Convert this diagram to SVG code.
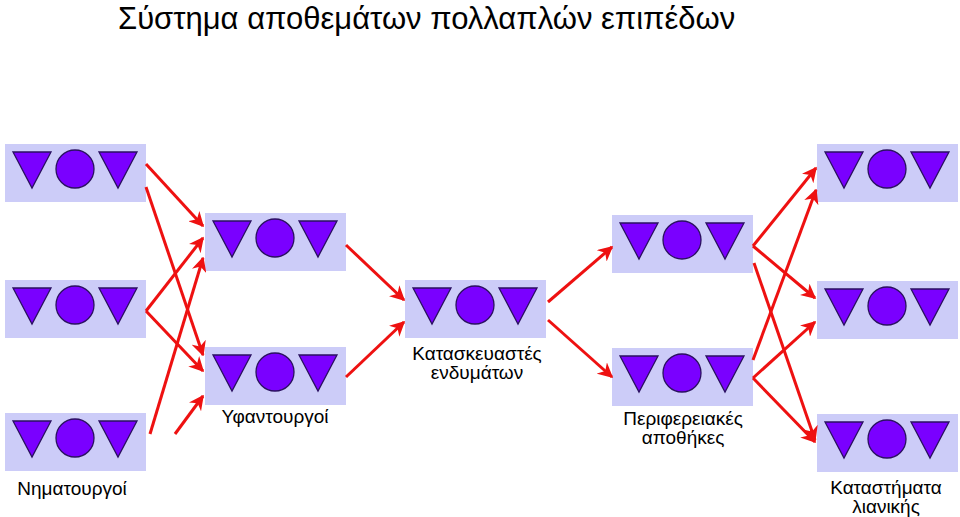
<svg xmlns="http://www.w3.org/2000/svg" width="960" height="517" viewBox="0 0 960 517">
<defs>
<style>
text{font-family:"Liberation Sans",Arial,sans-serif;fill:#000}
.lbl{font-size:19px;text-anchor:middle}
.bx{fill:#ccccf8}
.sh{fill:#7a00ff;stroke:#2a1060;stroke-width:1.3}
.c line{stroke:#ee1111;stroke-width:3;marker-end:url(#a)}
</style>
<marker id="a" viewBox="0 0 10 10" refX="9" refY="5" markerWidth="5" markerHeight="5" orient="auto" markerUnits="strokeWidth"><path d="M0,0 L10,5 L0,10 L3,5 z" fill="#ee1111"/></marker>
<g id="unit">
<rect class="bx" x="0" y="0" width="141" height="58"/>
<polygon class="sh" points="8,8 46,8 27,44"/>
<circle class="sh" cx="70" cy="25" r="19"/>
<polygon class="sh" points="94,8 132,8 113,44"/>
</g>
</defs>
<text x="118" y="29" font-size="31">Σύστημα αποθεμάτων πολλαπλών επιπέδων</text>
<g id="n1"><use href="#unit" x="5" y="144"/></g>
<g id="n2"><use href="#unit" x="5" y="280"/></g>
<g id="n3"><use href="#unit" x="5" y="413"/></g>
<g id="n4"><use href="#unit" x="205" y="213"/></g>
<g id="n5"><use href="#unit" x="205" y="347"/></g>
<g id="n6"><use href="#unit" x="405" y="280"/></g>
<g id="n7"><use href="#unit" x="612" y="215"/></g>
<g id="n8"><use href="#unit" x="612" y="348"/></g>
<g id="n9"><use href="#unit" x="817" y="144"/></g>
<g id="n10"><use href="#unit" x="817" y="281"/></g>
<g id="n11"><use href="#unit" x="817" y="414"/></g>
<g class="c">
<line x1="146" y1="164" x2="203" y2="226"/>
<line x1="146" y1="187" x2="203" y2="355"/>
<line x1="146" y1="311" x2="203" y2="238"/>
<line x1="146" y1="311" x2="203" y2="371"/>
<line x1="150" y1="434" x2="203" y2="258"/>
<line x1="175" y1="434" x2="203" y2="396"/>
<line x1="346" y1="245" x2="404" y2="300"/>
<line x1="346" y1="377" x2="404" y2="322"/>
<line x1="548" y1="302" x2="612" y2="247"/>
<line x1="548" y1="320" x2="612" y2="377"/>
<line x1="753" y1="246" x2="816" y2="168"/>
<line x1="753" y1="246" x2="815" y2="298"/>
<line x1="754" y1="263" x2="815" y2="440"/>
<line x1="753" y1="360" x2="816" y2="190"/>
<line x1="753" y1="378" x2="815" y2="322"/>
<line x1="753" y1="378" x2="815" y2="442"/>
</g>
<text class="lbl" x="72" y="495">Νηματουργοί</text>
<text class="lbl" x="275" y="423">Υφαντουργοί</text>
<text class="lbl" x="477" y="360">Κατασκευαστές</text>
<text class="lbl" x="477" y="379">ενδυμάτων</text>
<text class="lbl" x="683" y="425">Περιφερειακές</text>
<text class="lbl" x="683" y="444">αποθήκες</text>
<text class="lbl" x="886" y="494">Καταστήματα</text>
<text class="lbl" x="886" y="513">λιανικής</text>
</svg>
